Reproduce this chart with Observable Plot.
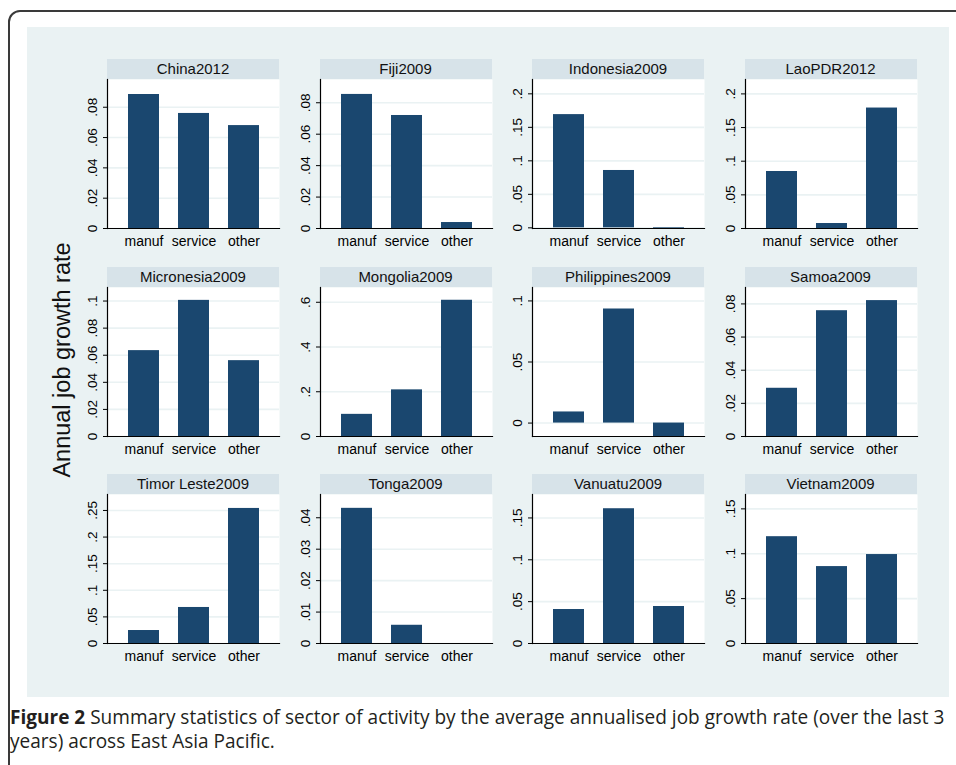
<!DOCTYPE html>
<html><head><meta charset="utf-8">
<script src="https://cdn.jsdelivr.net/npm/d3@7"></script>
<script src="https://cdn.jsdelivr.net/npm/@observablehq/plot@0.6"></script>
<style>
body{margin:0;width:956px;height:765px;overflow:hidden;background:#fff;position:relative;font-family:'Liberation Sans',Arial,sans-serif;}
#frame{position:absolute;left:8px;top:10px;width:1000px;height:800px;border:2px solid #3a3a3a;border-radius:12px;box-sizing:border-box;}
#bg{position:absolute;left:27px;top:27px;width:922px;height:670px;background:#eaf2f3;}
.strip{position:absolute;height:20px;background:#d7e3e9;font-size:15px;text-align:center;line-height:20px;color:#111;white-space:nowrap;}
.panel{position:absolute;}
#ytitle{position:absolute;left:62px;top:360px;transform:translate(-50%,-50%) rotate(-90deg);font-size:23.5px;white-space:nowrap;color:#111;}
#caption{position:absolute;left:10px;top:705px;font-size:16.5px;line-height:24px;color:#231f20;font-family:'Open Sans',sans-serif;white-space:nowrap;}
#caption b{font-weight:700;}
</style></head>
<body>
<div id="frame"></div>
<div id="bg"></div>
<div id="ytitle">Annual job growth rate</div>
<div id="caption"><span id="line1"><b>Figure 2</b> Summary statistics of sector of activity by the average annualised job growth rate (over the last 3</span><br>years) across East Asia Pacific.</div>
<script>
const countries = ["China2012","Fiji2009","Indonesia2009","LaoPDR2012","Micronesia2009","Mongolia2009","Philippines2009","Samoa2009","Timor Leste2009","Tonga2009","Vanuatu2009","Vietnam2009"];
const sectors = ["manuf","service","other"];
const manuf   = [0.0884, 0.0853, 0.169,  0.0847, 0.0634, 0.099,  0.0091, 0.0291, 0.0244, 0.043,  0.0406, 0.119];
const service = [0.0759, 0.0719, 0.0856, 0.0074, 0.1005, 0.2085, 0.0934, 0.0759, 0.0677, 0.0058, 0.161,  0.0857];
const other   = [0.0679, 0.0038, -0.001, 0.179,  0.056,  0.609,  -0.011, 0.082,  0.2538, 0,      0.0442, 0.0991];
const yMin = [0, 0, -0.001, 0, 0, 0, -0.011, 0, 0, 0, 0, 0];
const yMax = [0.0983, 0.0948, 0.2214, 0.2214, 0.110, 0.666, 0.111, 0.0899, 0.280, 0.0474, 0.178, 0.166];
const yTicks = [
  [0,.02,.04,.06,.08],[0,.02,.04,.06,.08],[0,.05,.1,.15,.2],[0,.05,.1,.15,.2],
  [0,.02,.04,.06,.08,.1],[0,.2,.4,.6],[0,.05,.1],[0,.02,.04,.06,.08],
  [0,.05,.1,.15,.2,.25],[0,.01,.02,.03,.04],[0,.05,.1,.15],[0,.05,.1,.15]
];
const fmt = d => d === 0 ? "0" : String(+d.toFixed(4)).replace(/^0\./, ".");

// fit caption first line to the reference width
const line1 = document.getElementById("line1");
const cap = document.getElementById("caption");
const w = line1.getBoundingClientRect().width;
cap.style.fontSize = (16.5 * 935 / w).toFixed(2) + "px";

const colLeft = [107, 319.5, 532, 744.5];
const rowTop = [59, 266.5, 474];
const stripH = 20, plotH = 149, plotW = 172, mL = 45, mR = 2, mB = 30;

countries.forEach((c, i) => {
  const col = i % 4, row = Math.floor(i / 4);
  const left = colLeft[col], top = rowTop[row];
  const strip = document.createElement("div");
  strip.className = "strip";
  strip.style.left = left + "px"; strip.style.top = top + "px"; strip.style.width = plotW + "px";
  strip.textContent = c;
  document.body.appendChild(strip);

  const data = sectors.map((s, k) => ({sector: s, value: [manuf, service, other][k][i]}));
  const chart = Plot.plot({
    width: mL + plotW + mR, height: plotH + mB,
    marginLeft: mL, marginRight: mR, marginTop: 0, marginBottom: mB,
    style: {background: "transparent", fontFamily: "'Liberation Sans', Arial, sans-serif", fontSize: "14px", color: "#000", overflow: "visible"},
    x: {domain: sectors, padding: 0.39, label: null},
    y: {domain: [yMin[i], yMax[i]], label: null},
    marks: [
      Plot.frame({fill: "white", stroke: "none"}),
      Plot.gridY(yTicks[i], {stroke: "#eaf2f3", strokeOpacity: 1, strokeWidth: 1.6}),
      Plot.barY(data, {x: "sector", y: "value", fill: "#1a476f"}),
      Plot.axisY(yTicks[i], {tickSize: 4, tickPadding: 7, tickRotate: -90, tickFormat: fmt, label: null, textAnchor: "middle", lineAnchor: "bottom", fontSize: 13.5}),
      Plot.axisX({tickSize: 0, tickPadding: 8, label: null, fontSize: 14}),
      Plot.frame({anchor: "left", stroke: "#000", strokeWidth: 1.2}),
      Plot.frame({anchor: "bottom", stroke: "#000", strokeWidth: 1.2})
    ]
  });
  chart.classList.add("panel");
  chart.style.left = (left - mL) + "px";
  chart.style.top = (top + stripH) + "px";
  document.body.appendChild(chart);
});
</script>
</body></html>
